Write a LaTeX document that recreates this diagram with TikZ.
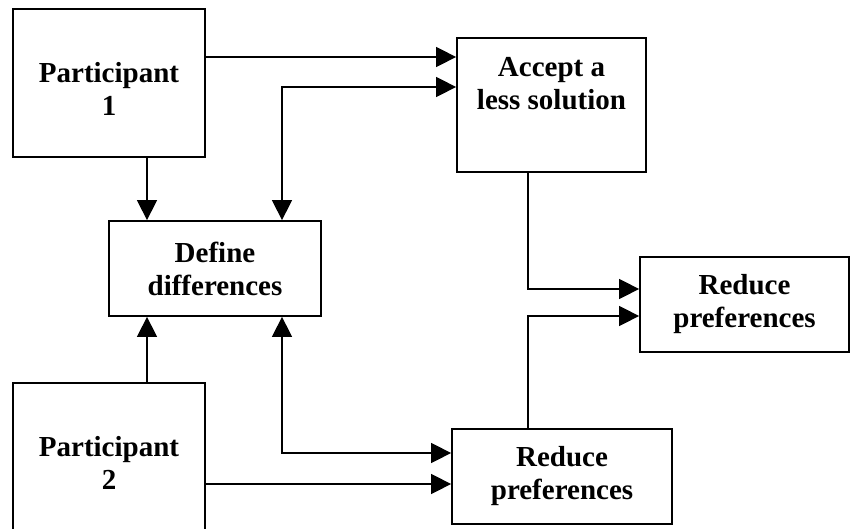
\documentclass[tikz,border=0pt]{standalone}
\usepackage{fontspec}
\setmainfont{Liberation Serif}
\usetikzlibrary{arrows.meta}
\tikzset{
  box/.style={draw, rectangle, line width=1.8pt, inner sep=0pt},
  txt/.style={font=\bfseries\fontsize{29}{33}\selectfont, align=center},
}
\begin{document}
\begin{tikzpicture}[x=1pt,y=-1pt,line width=1.5pt,>={Triangle[length=20pt,width=20pt]}]
	\useasboundingbox (0,0) rectangle (850,529);
	\clip (0,0) rectangle (850,529);
	%participants
	\node[box, minimum width=192pt, minimum height=148pt, label={[txt,yshift=-6pt]center:{Participant\\1}}] (P1) at (109,83) {};
	\node[box, minimum width=192pt, minimum height=160pt, label={[txt]center:{Participant\\2}}] (P2) at (109,463) {};
	%middle
	\node[box, txt, minimum width=212pt, minimum height=95pt] (define) at (215,268.5) {Define\\differences};
	\node[box, minimum width=189pt, minimum height=134pt, label={[txt,yshift=21pt]center:{Accept a\\less solution}}] (accept) at (551.5,105) {};
	\node[box, txt, minimum width=220pt, minimum height=95pt] (reduceB) at (562,476.5) {Reduce\\preferences};
	%right
	\node[box, txt, minimum width=209pt, minimum height=95pt] (reduceA) at (744.5,304.5) {Reduce\\preferences};
	%arrows
	\draw[->] (P1.east |- 0,57) -- (accept.west |- 0,57);
	\draw[<->] (define.north -| 282,0) |- (accept.west |- 0,87);
	\draw[->] (P1.south -| 147,0) -- (define.north -| 147,0);
	\draw[->] (P2.north -| 147,0) -- (define.south -| 147,0);
	\draw[<->] (define.south -| 282,0) |- (reduceB.west |- 0,453);
	\draw[->] (P2.east |- 0,484) -- (reduceB.west |- 0,484);
	\draw[->] (accept.south -| 528,0) |- (reduceA.west |- 0,289);
	\draw[->] (reduceB.north -| 528,0) |- (reduceA.west |- 0,316);
\end{tikzpicture}
\end{document}
